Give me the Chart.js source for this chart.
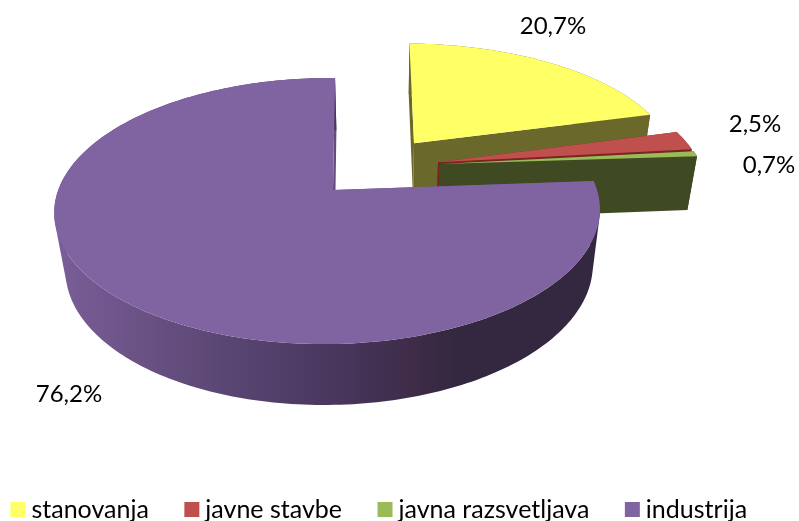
<!DOCTYPE html>
<html><head><meta charset="utf-8">
<style>html,body{margin:0;padding:0;background:#fff}#w{width:799px;height:521px;position:relative;overflow:hidden}</style>
<script src="https://cdn.jsdelivr.net/npm/chart.js@4"></script>
</head><body><div id="w"><canvas id="c" width="799" height="521"></canvas></div>
<script>
const categories = ['stanovanja', 'javne stavbe', 'javna razsvetljava', 'industrija'];
const shares = [20.7, 2.5, 0.7, 76.2];
const topColors = ['#FFFF66', '#C0504D', '#9BBB59', '#8064A2'];
const sideColors = ['#6B682C', '#7A2422', '#404A22', '#614C7C'];
// explosion of each slice within the plane of the pie (unit = radius)
const explodeX = [0.3175, 0.405, 0.41, 0];
const explodeY = [-0.384, -0.2235, -0.207, 0];
const sliceScale = [1.04, 1.04, 1.04, 1];
const sliceShear = [0.018, 0, 0, 0];
const labelX = [553, 755, 769, 69];
const labelY = [26, 124, 165, 394];
const FONT = 'Lato, Carlito, "Open Sans", sans-serif';

function P(u, v, h) {
  const w = 1 + 0.02 * u - 0.158 * v + 0.034 * h;
  return [(333 + 276 * u - 55 * v + 13 * h) / w, (190 + 3.6 * u + 99.7 * v + 65 * h) / w];
}
function poly(ctx, pts, fill) {
  ctx.beginPath();
  pts.forEach((p, i) => i ? ctx.lineTo(p[0], p[1]) : ctx.moveTo(p[0], p[1]));
  ctx.closePath();
  ctx.fillStyle = fill;
  ctx.fill();
}
function arcPts(a0, a1, i, h) {
  const n = Math.max(4, Math.ceil((a1 - a0) / 0.02)), out = [];
  for (let k = 0; k <= n; k++) {
    const a = a0 + (a1 - a0) * k / n, s = Math.sin(a);
    out.push(P(explodeX[i] + sliceScale[i] * Math.cos(a) - sliceShear[i] * s, explodeY[i] + s, h));
  }
  return out;
}
function wallFill(ctx, top, bot, fill) {
  ctx.beginPath();
  for (let k = 0; k < top.length - 1; k++) {
    let q = [top[k], top[k + 1], bot[k + 1], bot[k]], area = 0;
    q.forEach((p, j) => { const r = q[(j + 1) % 4]; area += p[0] * r[1] - r[0] * p[1]; });
    if (area < 0) q.reverse();
    q.forEach((p, j) => j ? ctx.lineTo(p[0], p[1]) : ctx.moveTo(p[0], p[1]));
    ctx.closePath();
  }
  ctx.fillStyle = fill;
  ctx.fill('nonzero');
}
const pie3d = {
  id: 'pie3d',
  beforeDatasetDraw() { return false; },
  afterDatasetsDraw(chart) {
    const ctx = chart.ctx, arcs = chart.getDatasetMeta(0).data;
    ctx.save();
    arcs.forEach((el, i) => {
      const top = arcPts(el.startAngle, el.endAngle, i, 0), bot = arcPts(el.startAngle, el.endAngle, i, 1);
      const aT = P(explodeX[i], explodeY[i], 0), aB = P(explodeX[i], explodeY[i], 1);
      const last = top.length - 1;
      poly(ctx, [aT, top[0], bot[0], aB], sideColors[i]);
      poly(ctx, [aT, top[last], bot[last], aB], sideColors[i]);
      let wall = sideColors[i];
      if (i === 3) {
        wall = ctx.createLinearGradient(55, 0, 600, 0);
        wall.addColorStop(0, '#7A5E98');
        wall.addColorStop(0.27, '#5E4977');
        wall.addColorStop(0.5, '#4A3860');
        wall.addColorStop(0.68, '#3C2A45');
        wall.addColorStop(0.74, '#33283F');
        wall.addColorStop(1, '#33283F');
      }
      wallFill(ctx, top, bot, wall);
      poly(ctx, [aT].concat(top), topColors[i]);
    });
    ctx.fillStyle = '#000';
    ctx.font = '24px ' + FONT;
    ctx.textAlign = 'center'; ctx.textBaseline = 'middle';
    shares.forEach((s, i) => ctx.fillText(s.toFixed(1).replace('.', ',') + '%', labelX[i], labelY[i]));
    ctx.restore();
  }
};
new Chart(document.getElementById('c'), {
  type: 'pie',
  data: { labels: categories, datasets: [{ data: shares, backgroundColor: topColors, borderWidth: 0 }] },
  plugins: [pie3d],
  options: {
    responsive: false, animation: false,
    layout: { padding: { left: -35, right: 0, bottom: -11 } },
    plugins: {
      tooltip: { enabled: false },
      legend: {
        position: 'bottom',
        labels: {
          usePointStyle: true, pointStyle: 'rect',
          boxWidth: 2, boxHeight: 15, padding: 42, color: '#000',
          font: { family: FONT, size: 25 }
        }
      }
    }
  }
});
</script></body></html>
